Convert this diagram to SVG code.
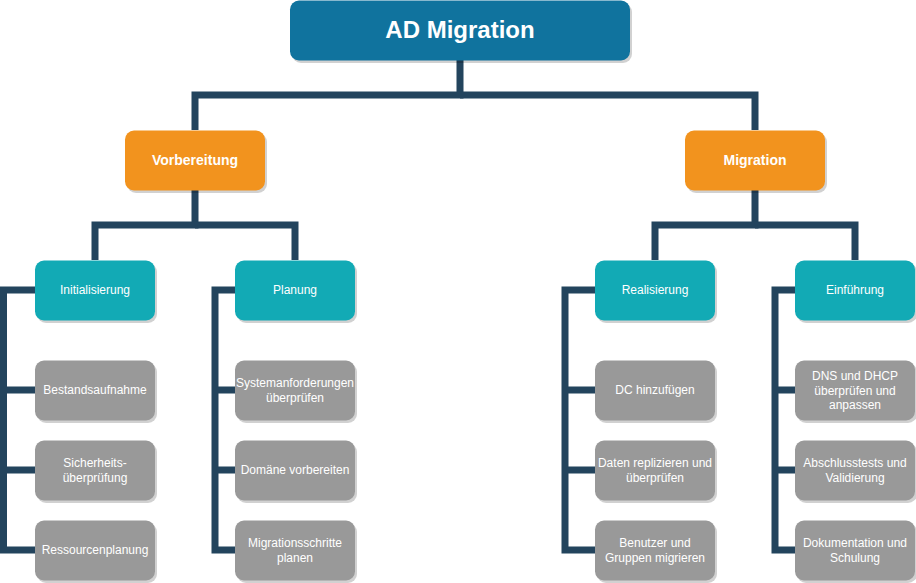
<svg xmlns="http://www.w3.org/2000/svg" width="916" height="583" viewBox="0 0 916 583">
<style>
text{font-family:"Liberation Sans",Arial,sans-serif;fill:#fff;text-anchor:middle}
.sh{fill:#000;opacity:0.18}
.root{fill:#10739e}
.or{fill:#f2931e}
.tl{fill:#12aab5}
.gr{fill:#999999}
.t1{font-size:24px;font-weight:bold}
.t2{font-size:14px;font-weight:bold}
.t3{font-size:12px}
.ln{fill:none;stroke:#23445d;stroke-width:7;stroke-linejoin:miter;stroke-linecap:butt}
</style>
<g id="connectors">
<path class="ln" d="M460 60V95H195V130"/>
<path class="ln" d="M460 95H755V130"/>
<path class="ln" d="M195 190V225H95V260"/>
<path class="ln" d="M195 225H295V260"/>
<path class="ln" d="M755 190V225H655V260"/>
<path class="ln" d="M755 225H855V260"/>
<path class="ln" d="M35 290H3.5V550H35M3.5 390H35M3.5 470H35"/>
<path class="ln" d="M235 290H215V550H235M215 390H235M215 470H235"/>
<path class="ln" d="M595 290H565V550H595M565 390H595M565 470H595"/>
<path class="ln" d="M795 290H775V550H795M775 390H795M775 470H795"/>
</g>
<g id="root"><rect class="sh" x="292" y="3" width="340" height="60" rx="9"/><rect class="root" x="290" y="0.5" width="340" height="60" rx="9"/><text class="t1" x="460" y="38">AD Migration</text></g>
<g id="vorbereitung"><rect class="sh" x="127" y="133" width="140" height="60" rx="9"/><rect class="or" x="125" y="130.5" width="140" height="60" rx="9"/><text class="t2" x="195" y="165">Vorbereitung</text></g>
<g id="migration"><rect class="sh" x="687" y="133" width="140" height="60" rx="9"/><rect class="or" x="685" y="130.5" width="140" height="60" rx="9"/><text class="t2" x="755" y="165">Migration</text></g>
<g id="initialisierung"><rect class="sh" x="37" y="263" width="120" height="60" rx="9"/><rect class="tl" x="35" y="260.5" width="120" height="60" rx="9"/><text class="t3" x="95" y="294">Initialisierung</text></g>
<g id="planung"><rect class="sh" x="237" y="263" width="120" height="60" rx="9"/><rect class="tl" x="235" y="260.5" width="120" height="60" rx="9"/><text class="t3" x="295" y="294">Planung</text></g>
<g id="realisierung"><rect class="sh" x="597" y="263" width="120" height="60" rx="9"/><rect class="tl" x="595" y="260.5" width="120" height="60" rx="9"/><text class="t3" x="655" y="294">Realisierung</text></g>
<g id="einfuehrung"><rect class="sh" x="797" y="263" width="120" height="60" rx="9"/><rect class="tl" x="795" y="260.5" width="120" height="60" rx="9"/><text class="t3" x="855" y="294">Einführung</text></g>
<g id="bestandsaufnahme"><rect class="sh" x="37" y="363" width="120" height="60" rx="9"/><rect class="gr" x="35" y="360.5" width="120" height="60" rx="9"/><text class="t3" x="95" y="394">Bestandsaufnahme</text></g>
<g id="sicherheit"><rect class="sh" x="37" y="443" width="120" height="60" rx="9"/><rect class="gr" x="35" y="440.5" width="120" height="60" rx="9"/><text class="t3" x="95" y="467">Sicherheits-</text><text class="t3" x="95" y="482">überprüfung</text></g>
<g id="ressourcen"><rect class="sh" x="37" y="523" width="120" height="60" rx="9"/><rect class="gr" x="35" y="520.5" width="120" height="60" rx="9"/><text class="t3" x="95" y="554">Ressourcenplanung</text></g>
<g id="systemanf"><rect class="sh" x="237" y="363" width="120" height="60" rx="9"/><rect class="gr" x="235" y="360.5" width="120" height="60" rx="9"/><text class="t3" x="295" y="387">Systemanforderungen</text><text class="t3" x="295" y="402">überprüfen</text></g>
<g id="domaene"><rect class="sh" x="237" y="443" width="120" height="60" rx="9"/><rect class="gr" x="235" y="440.5" width="120" height="60" rx="9"/><text class="t3" x="295" y="474">Domäne vorbereiten</text></g>
<g id="migschritte"><rect class="sh" x="237" y="523" width="120" height="60" rx="9"/><rect class="gr" x="235" y="520.5" width="120" height="60" rx="9"/><text class="t3" x="295" y="547">Migrationsschritte</text><text class="t3" x="295" y="562">planen</text></g>
<g id="dc"><rect class="sh" x="597" y="363" width="120" height="60" rx="9"/><rect class="gr" x="595" y="360.5" width="120" height="60" rx="9"/><text class="t3" x="655" y="394">DC hinzufügen</text></g>
<g id="daten"><rect class="sh" x="597" y="443" width="120" height="60" rx="9"/><rect class="gr" x="595" y="440.5" width="120" height="60" rx="9"/><text class="t3" x="655" y="467">Daten replizieren und</text><text class="t3" x="655" y="482">überprüfen</text></g>
<g id="benutzer"><rect class="sh" x="597" y="523" width="120" height="60" rx="9"/><rect class="gr" x="595" y="520.5" width="120" height="60" rx="9"/><text class="t3" x="655" y="547">Benutzer und</text><text class="t3" x="655" y="562">Gruppen migrieren</text></g>
<g id="dns"><rect class="sh" x="797" y="363" width="120" height="60" rx="9"/><rect class="gr" x="795" y="360.5" width="120" height="60" rx="9"/><text class="t3" x="855" y="380">DNS und DHCP</text><text class="t3" x="855" y="394.5">überprüfen und</text><text class="t3" x="855" y="409">anpassen</text></g>
<g id="abschluss"><rect class="sh" x="797" y="443" width="120" height="60" rx="9"/><rect class="gr" x="795" y="440.5" width="120" height="60" rx="9"/><text class="t3" x="855" y="467">Abschlusstests und</text><text class="t3" x="855" y="482">Validierung</text></g>
<g id="doku"><rect class="sh" x="797" y="523" width="120" height="60" rx="9"/><rect class="gr" x="795" y="520.5" width="120" height="60" rx="9"/><text class="t3" x="855" y="547">Dokumentation und</text><text class="t3" x="855" y="562">Schulung</text></g>
</svg>
